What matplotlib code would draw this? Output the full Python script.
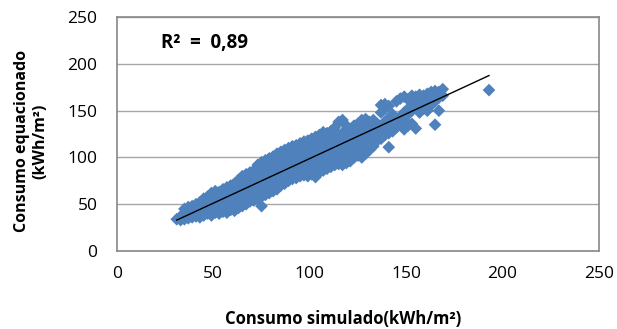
import numpy as np
import matplotlib.pyplot as plt

plt.rcParams["font.family"] = ["Open Sans", "DejaVu Sans"]

# (simulado, equacionado) pairs, grouped by x column
points = [
    (31, 34), (33, 33), (33, 37),
    (35, 34), (35, 40), (35, 45),
    (37, 35), (37, 41), (37, 47),
    (39, 36), (39, 42), (39, 48),
    (41, 37), (41, 43), (41, 50),
    (43, 36), (43, 41), (43, 46), (43, 52),
    (45, 38), (45, 44), (45, 50), (45, 56),
    (47, 40), (47, 46), (47, 52), (47, 58),
    (49, 38), (49, 44), (49, 51), (49, 57), (49, 62),
    (51, 41), (51, 47), (51, 53), (51, 60), (51, 64),
    (53, 40), (53, 45), (53, 51), (53, 57), (53, 63),
    (55, 42), (55, 48), (55, 54), (55, 60), (55, 66),
    (57, 41), (57, 47), (57, 53), (57, 59), (57, 65), (57, 68),
    (59, 44), (59, 50), (59, 56), (59, 62), (59, 70),
    (61, 43), (61, 49), (61, 55), (61, 61), (61, 67), (61, 72),
    (63, 46), (63, 52), (63, 58), (63, 64), (63, 70), (63, 76),
    (65, 48), (65, 54), (65, 60), (65, 66), (65, 72), (65, 80),
    (67, 50), (67, 56), (67, 62), (67, 68), (67, 74), (67, 82),
    (69, 53), (69, 59), (69, 65), (69, 71), (69, 77), (69, 84),
    (71, 54), (71, 60), (71, 66), (71, 72), (71, 78), (71, 86),
    (73, 56), (73, 62), (73, 68), (73, 74), (73, 80), (73, 88), (73, 92),
    (75, 48), (75, 58), (75, 64), (75, 70), (75, 76), (75, 82), (75, 90), (75, 95),
    (77, 60), (77, 66), (77, 72), (77, 78), (77, 84), (77, 90), (77, 97),
    (79, 62), (79, 68), (79, 74), (79, 80), (79, 86), (79, 92), (79, 99),
    (81, 64), (81, 70), (81, 76), (81, 82), (81, 88), (81, 94), (81, 101),
    (83, 66), (83, 72), (83, 78), (83, 84), (83, 90), (83, 96), (83, 104),
    (85, 70), (85, 76), (85, 82), (85, 88), (85, 94), (85, 100), (85, 106),
    (87, 72), (87, 78), (87, 84), (87, 90), (87, 96), (87, 102), (87, 108),
    (89, 75), (89, 81), (89, 87), (89, 93), (89, 99), (89, 105), (89, 110),
    (91, 77), (91, 83), (91, 89), (91, 95), (91, 101), (91, 107), (91, 112),
    (93, 78), (93, 84), (93, 90), (93, 96), (93, 102), (93, 108), (93, 113),
    (95, 80), (95, 86), (95, 92), (95, 98), (95, 104), (95, 110), (95, 115),
    (97, 81), (97, 87), (97, 93), (97, 99), (97, 105), (97, 111), (97, 117),
    (99, 80), (99, 86), (99, 92), (99, 98), (99, 104), (99, 110), (99, 118),
    (101, 82), (101, 88), (101, 94), (101, 100), (101, 106), (101, 112), (101, 120),
    (103, 79), (103, 89), (103, 95), (103, 101), (103, 107), (103, 113), (103, 122),
    (105, 84), (105, 90), (105, 96), (105, 102), (105, 108), (105, 114), (105, 124),
    (107, 86), (107, 92), (107, 98), (107, 104), (107, 110), (107, 116), (107, 122), (107, 127),
    (109, 88), (109, 95), (109, 101), (109, 107), (109, 113), (109, 119), (109, 126),
    (111, 90), (111, 97), (111, 103), (111, 109), (111, 115), (111, 121), (111, 128),
    (113, 92), (113, 98), (113, 104), (113, 110), (113, 116), (113, 122), (113, 132),
    (115, 93), (115, 100), (115, 106), (115, 112), (115, 118), (115, 124), (115, 138),
    (117, 92), (117, 102), (117, 108), (117, 114), (117, 120), (117, 126), (117, 140),
    (119, 94), (119, 104), (119, 110), (119, 116), (119, 122), (119, 128), (119, 134),
    (121, 96), (121, 106), (121, 112), (121, 118), (121, 124), (121, 130),
    (123, 100), (123, 108), (123, 114), (123, 120), (123, 126), (123, 134),
    (125, 102), (125, 110), (125, 116), (125, 122), (125, 128), (125, 136),
    (127, 100), (127, 110), (127, 118), (127, 124), (127, 130), (127, 140),
    (129, 104), (129, 114), (129, 120), (129, 126), (129, 132), (129, 141),
    (131, 108), (131, 116), (131, 122), (131, 128), (131, 138),
    (133, 112), (133, 120), (133, 126), (133, 132), (133, 140),
    (135, 118), (135, 124), (135, 130), (135, 136),
    (137, 120), (137, 128), (137, 134), (137, 148), (137, 156),
    (139, 124), (139, 132), (139, 138), (139, 152), (139, 157),
    (141, 111), (141, 126), (141, 134), (141, 142), (141, 155),
    (143, 128), (143, 138), (143, 146),
    (145, 132), (145, 140), (145, 160),
    (147, 136), (147, 144), (147, 163),
    (149, 130), (149, 140), (149, 148), (149, 165),
    (151, 134), (151, 146), (151, 152), (151, 162),
    (153, 136), (153, 150), (153, 160), (153, 166),
    (155, 131), (155, 154), (155, 162), (155, 165),
    (157, 148), (157, 158), (157, 164), (157, 167),
    (159, 152), (159, 160), (159, 166),
    (161, 150), (161, 158), (161, 165), (161, 168),
    (163, 156), (163, 164), (163, 170),
    (165, 135), (165, 160), (165, 168), (165, 171),
    (167, 150), (167, 164), (167, 170),
    (169, 166), (169, 173),
    (193, 172),
]
simulado = np.array([p[0] for p in points], dtype=float)
equacionado = np.array([p[1] for p in points], dtype=float)

r2_label = "R²  =  0,89"
x_ticks = [0, 50, 100, 150, 200, 250]
y_ticks = [0, 50, 100, 150, 200, 250]

fig = plt.figure(figsize=(6.17, 3.29), dpi=100)
ax = fig.add_axes([0.1896, 0.237, 0.781, 0.711])

ax.scatter(simulado, equacionado, marker="D", s=42, color="#4F81BD",
           edgecolors="none", zorder=3)

# linear trendline over the data range
coef = np.polyfit(simulado, equacionado, 1)
xl = np.array([simulado.min(), simulado.max()])
ax.plot(xl, np.polyval(coef, xl), color="black", linewidth=1, zorder=4)

ax.text(23, 222, r2_label, fontsize=13.5, fontweight="bold", va="center", ha="left")

ax.set_xlim(0, 250)
ax.set_ylim(0, 250)
ax.set_xticks(x_ticks)
ax.set_yticks(y_ticks)
ax.tick_params(length=0, labelsize=12.5)
ax.tick_params(axis="x", pad=11)
ax.tick_params(axis="y", pad=14)
ax.grid(axis="y", color="#a6a6a6", linewidth=1)
ax.set_axisbelow(True)
for sp in ax.spines.values():
    sp.set_color("#888888")
    sp.set_linewidth(1.2)

fig.text(343 / 617, 1 - 319 / 329, "Consumo simulado(kWh/m²)", fontsize=12,
         fontweight="bold", ha="center", va="center")
fig.text(31 / 617, 1 - 141 / 329, "Consumo equacionado\n(kWh/m²)", fontsize=11.5,
         fontweight="bold", ha="center", va="center", rotation=90,
         multialignment="center", linespacing=1.15)

plt.savefig("out.png", dpi=100)
